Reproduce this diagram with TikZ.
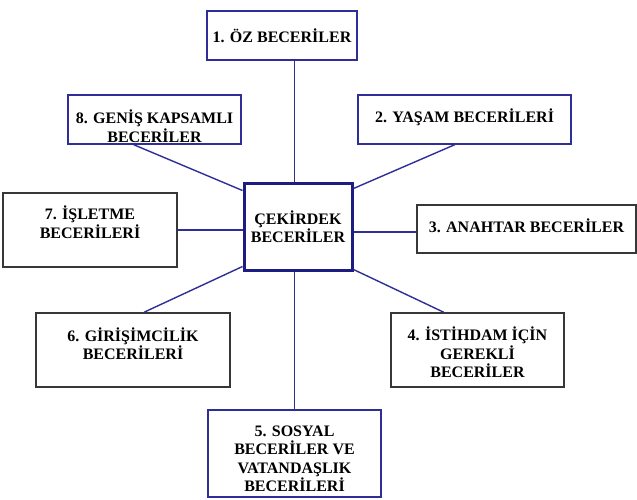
\documentclass[tikz,border=0pt]{standalone}
\usepackage{fontspec}
\setmainfont{Liberation Serif}
\usetikzlibrary{calc}
\definecolor{navy}{RGB}{46,46,150}
\definecolor{corenavy}{RGB}{28,28,130}
\definecolor{boxgray}{RGB}{55,55,55}
\tikzset{
  bluebox/.style={draw=navy, line width=1.3pt, inner sep=0pt},
  graybox/.style={draw=boxgray, line width=1.6pt, inner sep=0pt},
  corebox/.style={draw=corenavy, line width=3pt, inner sep=0pt},
  txt/.style={align=center, font=\fontsize{16}{18.5}\selectfont\bfseries, inner sep=0pt},
  link/.style={draw=navy, line width=1.4pt}
}

\begin{document}
\begin{tikzpicture}[x=1pt,y=-1pt]
		\useasboundingbox (0,0) rectangle (637,500);
		
		% Boxes
		\node[corebox, minimum width=108pt, minimum height=87pt] (cekirdek) at (298,226.5) {};
		\node[bluebox, minimum width=150pt, minimum height=49pt] (oz) at (282,35.5) {};
		\node[bluebox, minimum width=213pt, minimum height=49pt] (yasam) at (464.5,119.5) {};
		\node[graybox, minimum width=219pt, minimum height=48pt] (anahtar) at (526.5,229) {};
		\node[graybox, minimum width=173pt, minimum height=74pt] (istihdam) at (477.5,350) {};
		\node[bluebox, minimum width=173pt, minimum height=87pt] (sosyal) at (294.5,453.5) {};
		\node[graybox, minimum width=194pt, minimum height=74pt] (girisim) at (133,350) {};
		\node[graybox, minimum width=174pt, minimum height=74pt] (isletme) at (90,230) {};
		\node[bluebox, minimum width=173pt, minimum height=49pt] (genis) at (154.5,119.5) {};
		
		% Texts
		\node[txt] (cekirdek-t) at (298,226.5) {ÇEKİRDEK\\BECERİLER};
		\node[txt] (oz-t) at (282,35.5) {1. ÖZ BECERİLER};
		\node[txt] (yasam-t) at (464.5,117) {2. YAŞAM BECERİLERİ};
		\node[txt] (anahtar-t) at (526.5,226) {3. ANAHTAR BECERİLER};
		\node[txt] (istihdam-t) at (477.5,352.5) {4. İSTİHDAM İÇİN\\GEREKLİ\\BECERİLER};
		\node[txt] (sosyal-t) at (294.5,459) {5. SOSYAL\\BECERİLER VE\\VATANDAŞLIK\\BECERİLERİ};
		\node[txt] (girisim-t) at (133,343.5) {6. GİRİŞİMCİLİK\\BECERİLERİ};
		\node[txt] (isletme-t) at (90,222) {7. İŞLETME\\BECERİLERİ};
		\node[txt] (genis-t) at (154.5,126) {8. GENİŞ KAPSAMLI\\BECERİLER};
		
		% Links
		\draw[link] (oz.south -| sosyal.north) -- (cekirdek.north -| sosyal.north);
		\draw[link] (cekirdek.south -| sosyal.north) -- (sosyal.north);
		\draw[link] ($(yasam.south west)!0.455!(yasam.south east)$) -- ([yshift=-7pt]cekirdek.north east);
		\draw[link] ([yshift=-3pt]anahtar.west) -- ([yshift=-3pt]anahtar.west -| cekirdek.east);
		\draw[link] ($(istihdam.north west)!0.306!(istihdam.north east)$) -- ([yshift=2pt]cekirdek.south east);
		\draw[link] ($(girisim.north west)!0.557!(girisim.north east)$) -- ([yshift=5pt]cekirdek.south west);
		\draw[link] (isletme.east) -- (isletme.east -| cekirdek.west);
		\draw[link] ($(genis.south west)!0.38!(genis.south east)$) -- ([yshift=-9pt]cekirdek.north west);
	\end{tikzpicture}
\end{document}
